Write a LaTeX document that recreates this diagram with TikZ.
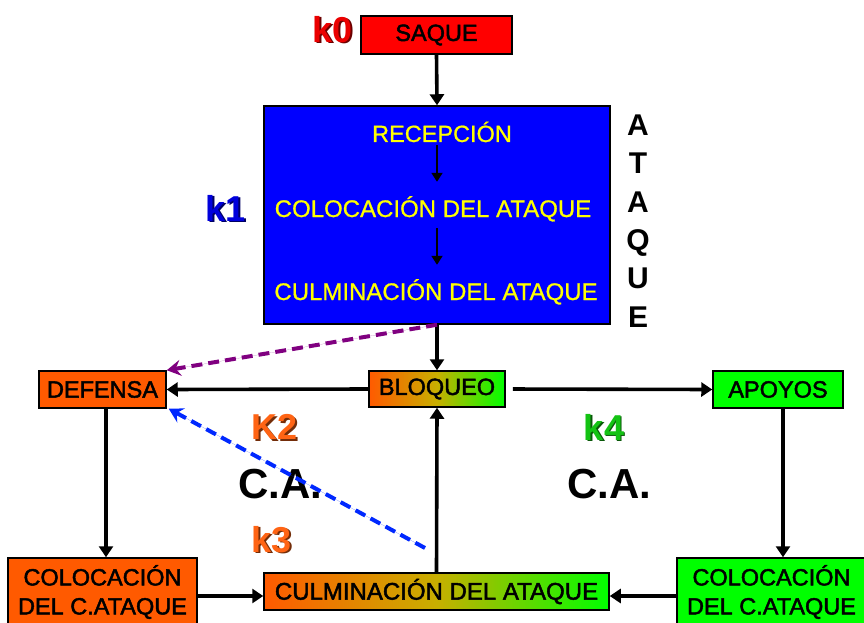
\documentclass[tikz,border=0pt]{standalone}
\usepackage{fontspec}
\setmainfont{Liberation Sans}
\newfontfamily\boxfont[FakeBold=2]{Liberation Sans}
\newfontfamily\yelfont[FakeBold=0.8]{Liberation Sans}
\usetikzlibrary{arrows.meta}
\definecolor{orng}{RGB}{255,90,0}
\definecolor{grn}{RGB}{0,255,0}
\definecolor{midc}{RGB}{200,175,0}
\definecolor{bluebox}{RGB}{0,0,255}
\definecolor{yel}{RGB}{255,255,0}
\definecolor{purp}{RGB}{128,0,128}
\definecolor{dashblue}{RGB}{0,40,255}
\definecolor{kred}{RGB}{235,0,0}
\definecolor{kblue}{RGB}{0,0,220}
\definecolor{korange}{RGB}{255,100,20}
\definecolor{kgreen}{RGB}{20,195,20}
\newcommand{\shadowtext}[2]{{\color{#1!45!black}\rlap{\kern1.5pt\raisebox{-1.5pt}{#2}}}{\color{#1}#2}}
\begin{document}
\begin{tikzpicture}[x=1pt,y=-1pt,
  box/.style={draw=black,line width=1.5pt,inner sep=0pt,align=center,
    font=\boxfont\fontsize{23.5}{29}\selectfont},
  grad/.style={box,left color=orng,right color=grn,middle color=midc},
  conn/.style={line width=3.6pt,-{Triangle[length=11pt,width=14pt]}},
  thinconn/.style={line width=1.8pt,-{Triangle[length=9pt,width=11pt]}},
  dashconn/.style={line width=4pt,dash pattern=on 11pt off 6pt,
    -{Stealth[length=14pt,width=16pt,inset=5pt]}},
  inner/.style={text=yel,inner sep=0pt,anchor=base,text height=17pt,text depth=0pt,
    font=\yelfont\fontsize{24}{27}\selectfont},
  klab/.style={font=\bfseries\fontsize{36}{36}\selectfont,inner sep=0pt},
  calab/.style={font=\bfseries\fontsize{42}{42}\selectfont,inner sep=0pt},
]
\useasboundingbox (0,0) rectangle (864,623);

% boxes
\node[box,fill=red,minimum width=151pt,minimum height=38pt] (saque) at (436.5,35) {SAQUE};
\node[box,fill=bluebox,minimum width=346pt,minimum height=218pt] (blue) at (437,215) {};
\node[grad,minimum width=136pt,minimum height=36pt] (bloqueo) at (437,389) {BLOQUEO};
\node[box,fill=orng,minimum width=127pt,minimum height=37pt] (defensa) at (102.5,389.5) {DEFENSA};
\node[box,fill=grn,minimum width=130pt,minimum height=37pt] (apoyos) at (778,389.5) {APOYOS};
\node[box,fill=orng,minimum width=189pt,minimum height=68pt] (colL) at (102.5,592) {COLOCACIÓN\\DEL C.ATAQUE};
\node[box,fill=grn,minimum width=189pt,minimum height=68pt] (colR) at (771.5,592) {COLOCACIÓN\\DEL C.ATAQUE};
\node[grad,minimum width=345pt,minimum height=37pt,font=\boxfont\fontsize{24}{29}\selectfont] (culm) at (436.5,591.5) {CULMINACIÓN DEL ATAQUE};

% texts inside blue box
\node[inner,font=\yelfont\fontsize{23.5}{27}\selectfont] (rec) at (442,142) {RECEPCIÓN};
\node[inner] (col) at (433,217) {COLOCACIÓN DEL ATAQUE};
\node[inner] (cul) at (436,300) {CULMINACIÓN DEL ATAQUE};
\draw[thinconn,shorten <=3pt,shorten >=18pt] (rec.south -| blue.center) -- (col.north -| blue.center);
\draw[thinconn,shorten <=11pt,shorten >=18pt] (col.south -| blue.center) -- (cul.north -| blue.center);

% labels
\node[klab] (k0) at (333,30) {\shadowtext{kred}{k0}};
\node[klab] (k1) at (226,209) {\shadowtext{kblue}{k1}};
\node[klab] (k2) at (275,428) {\shadowtext{korange}{K2}};
\node[calab] (ca1) at (280,484) {C.A.};
\node[klab] (k3) at (272,540) {\shadowtext{korange}{k3}};
\node[klab] (k4) at (604,428) {\shadowtext{kgreen}{k4}};
\node[calab] (ca2) at (609,484) {C.A.};
\node[font=\bfseries\fontsize{30}{38.4}\selectfont,align=center,inner sep=0pt] (ataque) at (638,221) {A\\T\\A\\Q\\U\\E};

% connectors
\draw[conn] (saque.south) -- (blue.north);
\draw[conn] (blue.south) -- (bloqueo.north);
\draw[conn] (bloqueo.west) -- (defensa.east);
\draw[conn,shorten <=7pt] (bloqueo.east) -- (apoyos.west);
\draw[conn] ([xshift=3.5pt]defensa.south) -- ([xshift=3.5pt]defensa.south |- colL.north);
\draw[conn] ([xshift=5pt]apoyos.south) -- ([xshift=5pt]apoyos.south |- colR.north);
\draw[conn] ([yshift=-4pt]colL.east) -- ([yshift=-4pt]colL.east -| culm.west);
\draw[conn] ([yshift=-4pt]colR.west) -- ([yshift=-4pt]colR.west -| culm.east);
\draw[conn] (culm.north) -- (bloqueo.south);

\coordinate (bstart) at (425,548);
\draw[dashconn,draw=purp,fill=purp] (blue.south) -- (defensa.north east);
\draw[dashconn,draw=dashblue,fill=dashblue] (bstart) -- ([xshift=2pt]defensa.south east);
\end{tikzpicture}
\end{document}
